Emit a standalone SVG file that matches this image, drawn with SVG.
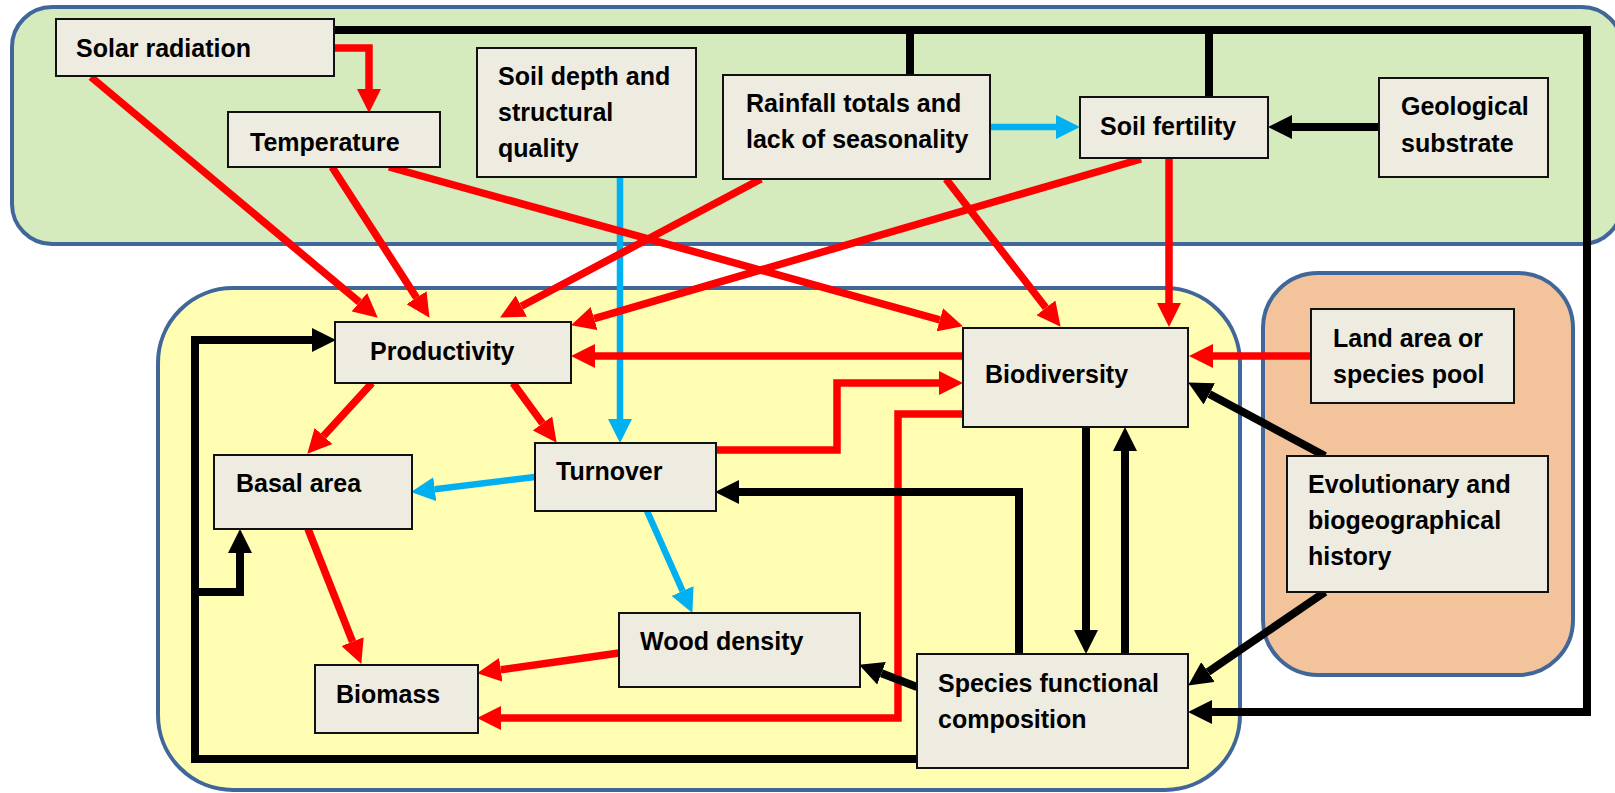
<svg xmlns="http://www.w3.org/2000/svg" width="1615" height="793" viewBox="0 0 1615 793">
<style>
.grp{stroke:#41679a;stroke-width:4}
.node rect{fill:#eeece1;stroke:#111;stroke-width:2}
.node text{font-family:"Liberation Sans",Arial,sans-serif;font-weight:bold;font-size:25px;fill:#000}
.c{fill:none;stroke-linejoin:miter}
.r{stroke:#ff0000;stroke-width:7.5}
.b{stroke:#00b0f0;stroke-width:6.5}
.k{stroke:#000;stroke-width:8}
</style>
<defs>
<marker id="ar" markerUnits="userSpaceOnUse" markerWidth="25" markerHeight="24" refX="0" refY="12" orient="auto"><path d="M0,0 L24,12 L0,24 z" fill="#ff0000"/></marker>
<marker id="ab" markerUnits="userSpaceOnUse" markerWidth="25" markerHeight="24" refX="0" refY="12" orient="auto"><path d="M0,0 L24,12 L0,24 z" fill="#00b0f0"/></marker>
<marker id="ak" markerUnits="userSpaceOnUse" markerWidth="25" markerHeight="24" refX="0" refY="12" orient="auto"><path d="M0,0 L24,12 L0,24 z" fill="#000"/></marker>
</defs>
<rect width="1615" height="793" fill="#fff"/>
<g id="groups">
<rect id="g-climate" class="grp" x="12" y="7" width="1610" height="237" rx="40" fill="#d5eabd"/>
<rect id="g-forest" class="grp" x="158" y="288" width="1082" height="502" rx="75" fill="#fefdb2"/>
<rect id="g-history" class="grp" x="1263" y="273" width="310" height="402" rx="55" fill="#f3c39b"/>
</g>
<g id="connectors">
<path class="c b" d="M620,177 V419" marker-end="url(#ab)"/>
<path class="c b" d="M990,127 H1056" marker-end="url(#ab)"/>
<path class="c b" d="M535,477 L434.8,489.2" marker-end="url(#ab)"/>
<path class="c b" d="M647,511 L682.6,591" marker-end="url(#ab)"/>
<path class="c r" d="M334,48 H369 V89" marker-end="url(#ar)"/>
<path class="c r" d="M91,77 L359.4,302.2" marker-end="url(#ar)"/>
<path class="c r" d="M332,167 L416.5,297.7" marker-end="url(#ar)"/>
<path class="c r" d="M389,167 L939.8,319.8" marker-end="url(#ar)"/>
<path class="c r" d="M761,179 L521.3,306.2" marker-end="url(#ar)"/>
<path class="c r" d="M946,179 L1045.9,307.8" marker-end="url(#ar)"/>
<path class="c r" d="M1141,159 L594.1,318.6" marker-end="url(#ar)"/>
<path class="c r" d="M1169,158 V303" marker-end="url(#ar)"/>
<path class="c r" d="M1311,356 H1213" marker-end="url(#ar)"/>
<path class="c r" d="M963,356 H595" marker-end="url(#ar)"/>
<path class="c r" d="M372,383 L323.5,436" marker-end="url(#ar)"/>
<path class="c r" d="M513,383 L542.5,423.4" marker-end="url(#ar)"/>
<path class="c r" d="M716,450 H837 V383 H939" marker-end="url(#ar)"/>
<path class="c r" d="M308,529 L352.5,641.6" marker-end="url(#ar)"/>
<path class="c r" d="M619,653 L500.8,669.8" marker-end="url(#ar)"/>
<path class="c r" d="M963,414 H898 V718 H501" marker-end="url(#ar)"/>
<path class="c k" d="M334,30 H1587 V712 H1212" marker-end="url(#ak)"/>
<path class="c k" d="M910,30 V75"/>
<path class="c k" d="M1209,30 V97"/>
<path class="c k" d="M1379,127 H1292" marker-end="url(#ak)"/>
<path class="c k" d="M1325,456 L1209.3,393.9" marker-end="url(#ak)"/>
<path class="c k" d="M1325,592 L1208,672" marker-end="url(#ak)"/>
<path class="c k" d="M917,759 H195 V340 H312" marker-end="url(#ak)"/>
<path class="c k" d="M195,592 H240 V553" marker-end="url(#ak)"/>
<path class="c k" d="M1019,654 V492 H739" marker-end="url(#ak)"/>
<path class="c k" d="M1086,427 V630" marker-end="url(#ak)"/>
<path class="c k" d="M1125,654 V451" marker-end="url(#ak)"/>
<path class="c k" d="M917,687 L881.5,673.3" marker-end="url(#ak)"/>
</g>
<g id="n-solar" class="node"><rect x="56" y="19" width="278" height="57"/><text x="76" y="57">Solar radiation</text></g>
<g id="n-temperature" class="node"><rect x="228" y="112" width="212" height="55"/><text x="250" y="151">Temperature</text></g>
<g id="n-soildepth" class="node"><rect x="477" y="48" width="219" height="129"/><text x="498" y="85">Soil depth and</text><text x="498" y="121">structural</text><text x="498" y="157">quality</text></g>
<g id="n-rainfall" class="node"><rect x="723" y="75" width="267" height="104"/><text x="746" y="112">Rainfall totals and</text><text x="746" y="148">lack of seasonality</text></g>
<g id="n-soilfertility" class="node"><rect x="1080" y="97" width="188" height="61"/><text x="1100" y="135">Soil fertility</text></g>
<g id="n-geological" class="node"><rect x="1379" y="78" width="169" height="99"/><text x="1401" y="115">Geological</text><text x="1401" y="152">substrate</text></g>
<g id="n-productivity" class="node"><rect x="335" y="322" width="236" height="61"/><text x="370" y="360">Productivity</text></g>
<g id="n-basal" class="node"><rect x="214" y="455" width="198" height="74"/><text x="236" y="492">Basal area</text></g>
<g id="n-turnover" class="node"><rect x="535" y="443" width="181" height="68"/><text x="556" y="480">Turnover</text></g>
<g id="n-biodiversity" class="node"><rect x="963" y="328" width="225" height="99"/><text x="985" y="383">Biodiversity</text></g>
<g id="n-wood" class="node"><rect x="619" y="613" width="241" height="74"/><text x="640" y="650">Wood density</text></g>
<g id="n-biomass" class="node"><rect x="315" y="665" width="163" height="68"/><text x="336" y="703">Biomass</text></g>
<g id="n-species" class="node"><rect x="917" y="654" width="271" height="114"/><text x="938" y="692">Species functional</text><text x="938" y="728">composition</text></g>
<g id="n-land" class="node"><rect x="1311" y="309" width="203" height="94"/><text x="1333" y="347">Land area or</text><text x="1333" y="383">species pool</text></g>
<g id="n-evolution" class="node"><rect x="1287" y="456" width="261" height="136"/><text x="1308" y="493">Evolutionary and</text><text x="1308" y="529">biogeographical</text><text x="1308" y="565">history</text></g>
</svg>
